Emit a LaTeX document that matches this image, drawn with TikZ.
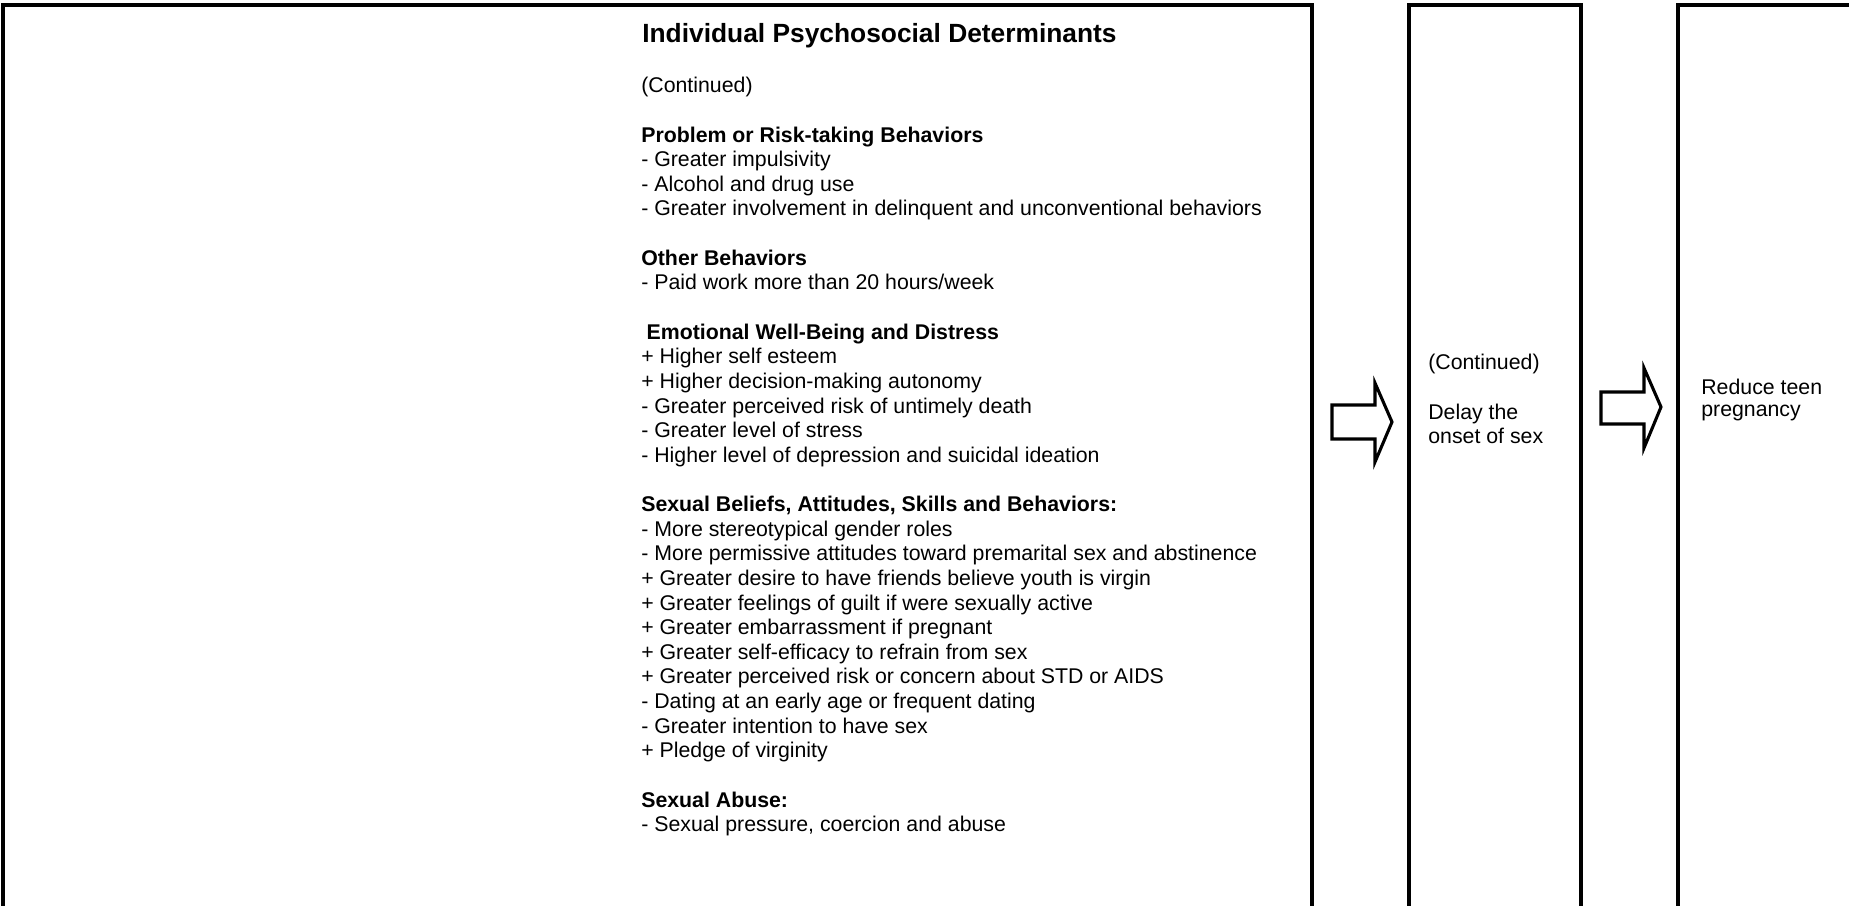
\documentclass[tikz,border=0pt]{standalone}
\usepackage{fontspec}
\setmainfont{Liberation Sans}
\begin{document}
\begin{tikzpicture}[x=0.615pt, y=-0.615pt,
    box/.style={line width=1.9pt},
    fatarrow/.style={line width=1.9pt, line join=miter},
    txt/.style={anchor=north west, inner sep=0pt, align=left,
      font=\fontsize{13.1}{15.15}\selectfont}]
    \useasboundingbox (0,0) rectangle (1849,906);
    \clip (0,0) rectangle (1849,906);

    % the three columns, cut off at the bottom
    \draw[box] (3,5) rectangle (1312,960);
    \draw[box] (1409,5) rectangle (1581,960);
    \draw[box] (1678,5) rectangle (1900,960);

    \node[anchor=north west, inner sep=0pt, font=\fontsize{16.2}{19}\selectfont\bfseries] (title) at (642,23) {Individual Psychosocial Determinants};
    \node[txt] (determ) at (641,77) {(Continued)\\[15.15pt]
      \textbf{Problem or Risk-taking Behaviors}\\
      - Greater impulsivity\\
      - Alcohol and drug use\\
      - Greater involvement in delinquent and unconventional behaviors\\[15.15pt]
      \textbf{Other Behaviors}\\
      - Paid work more than 20 hours/week\\[15.15pt]
      \hspace*{0.25em}\textbf{Emotional Well-Being and Distress}\\
      + Higher self esteem\\
      + Higher decision-making autonomy\\
      - Greater perceived risk of untimely death\\
      - Greater level of stress\\
      - Higher level of depression and suicidal ideation\\[15.15pt]
      \textbf{Sexual Beliefs, Attitudes, Skills and Behaviors:}\\
      - More stereotypical gender roles\\
      - More permissive attitudes toward premarital sex and abstinence\\
      + Greater desire to have friends believe youth is virgin\\
      + Greater feelings of guilt if were sexually active\\
      + Greater embarrassment if pregnant\\
      + Greater self-efficacy to refrain from sex\\
      + Greater perceived risk or concern about STD or AIDS\\
      - Dating at an early age or frequent dating\\
      - Greater intention to have sex\\
      + Pledge of virginity\\[15.15pt]
      \textbf{Sexual Abuse:}\\
      - Sexual pressure, coercion and abuse};

    \node[txt] (delay) at (1428,354) {(Continued)\\[15.15pt]
      Delay the\\onset of sex};
    \node[txt, font=\fontsize{13.1}{13.2}\selectfont] (reduce) at (1701,379) {Reduce teen\\pregnancy};

    % block arrows between the columns
    \draw[fatarrow] (1332,405) -- (1375,405) -- (1375,383) -- (1392,422) -- (1375,462) -- (1375,439) -- (1332,439) -- cycle;
    \draw[fatarrow] (1601,392) -- (1644,392) -- (1644,368) -- (1661,407) -- (1644,448) -- (1644,424) -- (1601,424) -- cycle;
\end{tikzpicture}
\end{document}
